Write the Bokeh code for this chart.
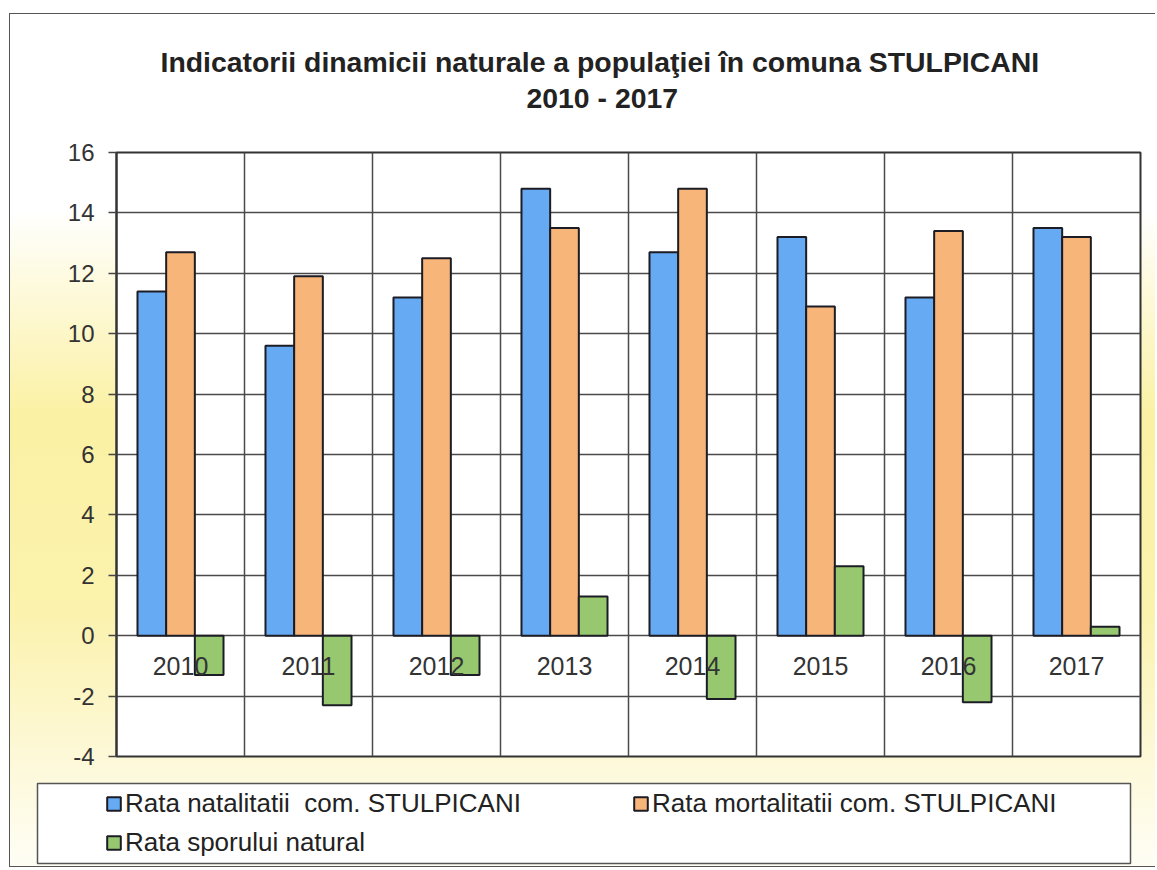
from bokeh.plotting import figure
from bokeh.layouts import column
from bokeh.models import (ColumnDataSource, Range1d, FactorRange, FixedTicker,
                          Legend, LegendItem, Title, PrintfTickFormatter)
from bokeh.transform import dodge
from bokeh.core.properties import value
from bokeh.embed import file_html
from bokeh.resources import INLINE

# ---------------- data ----------------
years = ["2010", "2011", "2012", "2013", "2014", "2015", "2016", "2017"]
natalitate = [11.4, 9.6, 11.2, 14.8, 12.7, 13.2, 11.2, 13.5]
mortalitate = [12.7, 11.9, 12.5, 13.5, 14.8, 10.9, 13.4, 13.2]
spor_natural = [-1.3, -2.3, -1.3, 1.3, -2.1, 2.3, -2.2, 0.3]
y_ticks = [-4, -2, 0, 2, 4, 6, 8, 10, 12, 14, 16]
series_labels = ["Rata natalitatii  com. STULPICANI",
                 "Rata mortalitatii com. STULPICANI",
                 "Rata sporului natural"]
title_line1 = "Indicatorii dinamicii naturale a populaţiei în comuna STULPICANI"
title_line2 = "2010 - 2017"

FONT = "Liberation Sans"
BLUE, ORANGE, GREEN = "#66aaf3", "#f7b57a", "#97c870"
EDGE = "#1c1c24"

src = ColumnDataSource(dict(year=years, nat=natalitate, mort=mortalitate,
                            spor=spor_natural, base=[0] * len(years)))

# ---------------- main chart ----------------
p = figure(x_range=FactorRange(*years), y_range=Range1d(-4, 16),
           width=1155, height=770, title=None, x_axis_location=None,
           output_backend="svg", toolbar_location=None,
           min_border_left=116, min_border_right=15,
           min_border_top=152, min_border_bottom=14)
p.frame_align = False
p.border_fill_color = None
p.background_fill_color = "white"
p.outline_line_color = "#333333"
p.outline_line_width = 2

# titles (first added is closest to the frame)
p.add_layout(Title(text=title_line2, align="left", offset=410,
                   text_font=FONT, text_font_size="28.4px", text_font_style="bold",
                   text_color="#222222", standoff=78), "above")
p.add_layout(Title(text=title_line1, align="left", offset=44,
                   text_font=FONT, text_font_size="28.4px", text_font_style="bold",
                   text_color="#222222", standoff=-74), "above")

# grid
p.ygrid.ticker = FixedTicker(ticks=y_ticks)
p.ygrid.grid_line_color = "#4a4a4a"
p.ygrid.grid_line_width = 1.5
p.xgrid.ticker = FixedTicker(ticks=list(range(1, len(years))))
p.xgrid.grid_line_color = "#4a4a4a"
p.xgrid.grid_line_width = 1.5

# y axis
p.yaxis.ticker = FixedTicker(ticks=y_ticks)
p.yaxis.formatter = PrintfTickFormatter(format="%d")
p.yaxis.axis_line_color = "#333333"
p.yaxis.axis_line_width = 2
p.yaxis.major_tick_out = 8
p.yaxis.major_tick_in = 0
p.yaxis.minor_tick_line_color = None
p.yaxis.major_tick_line_color = "#444444"
p.yaxis.major_tick_line_width = 1.5
p.yaxis.major_label_standoff = 14
p.yaxis.major_label_text_font = FONT
p.yaxis.major_label_text_font_size = "24px"
p.yaxis.major_label_text_color = "#333333"

w = 0.224
bar_style = dict(width=w, source=src, line_color=EDGE, line_width=2)
p.vbar(x=dodge("year", -w, range=p.x_range), top="nat", fill_color=BLUE, **bar_style)
p.vbar(x=dodge("year", 0, range=p.x_range), top="mort", fill_color=ORANGE, **bar_style)
p.vbar(x=dodge("year", w, range=p.x_range), top="spor", fill_color=GREEN, **bar_style)

# category labels sitting just below the zero line
p.text(x="year", y="base", text="year", source=src, y_offset=30,
       text_align="center", text_baseline="middle",
       text_font=value(FONT), text_font_size="25px", text_color="#333333")

# ---------------- legend box (separate strip) ----------------
lg = figure(width=1155, height=98, x_range=p.x_range, y_range=p.y_range,
            x_axis_type=None, y_axis_type=None, title=None,
            output_backend="svg", toolbar_location=None,
            min_border_left=37, min_border_right=25,
            min_border_top=13, min_border_bottom=5)
lg.frame_align = False
lg.border_fill_color = None
lg.background_fill_color = "white"
lg.outline_line_color = "#555555"
lg.outline_line_width = 1.5
lg.xgrid.visible = False
lg.ygrid.visible = False

# hidden copies of the three series, used only for the legend swatches
l1 = lg.vbar(x="year", top="nat", fill_color=BLUE, visible=False, **bar_style)
l2 = lg.vbar(x="year", top="mort", fill_color=ORANGE, visible=False, **bar_style)
l3 = lg.vbar(x="year", top="spor", fill_color=GREEN, visible=False, **bar_style)

legend = Legend(items=[LegendItem(label=series_labels[0], renderers=[l1]),
                       LegendItem(label=series_labels[1], renderers=[l2]),
                       LegendItem(label=series_labels[2], renderers=[l3])],
                orientation="horizontal", ncols=2,
                location=(68, 5), margin=0, padding=0,
                spacing=8, label_width=499, label_height=28, label_standoff=3,
                glyph_width=17, glyph_height=17,
                inactive_fill_alpha=0,
                border_line_alpha=0, background_fill_alpha=0,
                label_text_font=FONT, label_text_font_size="26px",
                label_text_color="#222222")
lg.add_layout(legend)

layout = column(p, lg, spacing=0)
layout.styles = {
    "background": (
        "linear-gradient(#555555,#555555) 9px 13px / 1px 854px no-repeat, "
        "linear-gradient(#555555,#555555) 9px 13px / 1146px 1px no-repeat, "
        "linear-gradient(#555555,#555555) 9px 866px / 1146px 1px no-repeat, "
        "linear-gradient(to bottom, #ffffff 0%, #ffffff 23%, #fbf1a4 47%, "
        "#fbf2ad 70%, #fdf9dc 89%, #fffef5 100%) 9px 13px / 1146px 854px no-repeat"
    ),
}

open("out.html", "w").write(file_html(layout, INLINE))
